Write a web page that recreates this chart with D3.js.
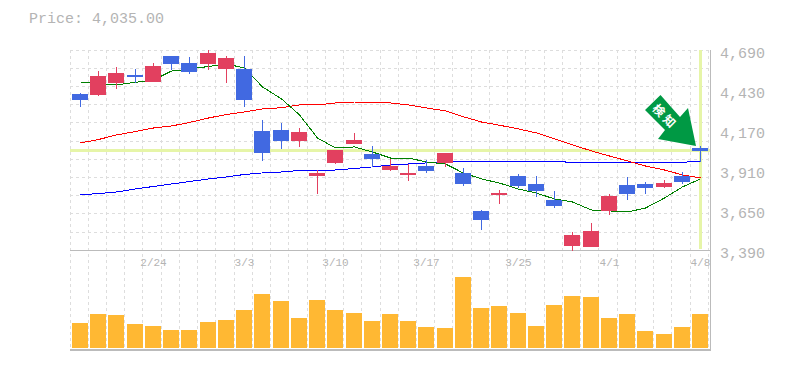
<!DOCTYPE html>
<html>
<head>
<meta charset="utf-8">
<script src="https://cdnjs.cloudflare.com/ajax/libs/d3/7.8.5/d3.min.js"></script>
<style>
html, body { margin: 0; padding: 0; background: #fff; }
svg { display: block; }
text { font-family: "Liberation Mono", monospace; fill: #b4b4b4; }
</style>
</head>
<body>
<div id="chart"></div>
<script>
const dates = ["2/18","2/19","2/20","2/21","2/24","2/25","2/26","2/27","2/28","3/3","3/4","3/5","3/6","3/7","3/10","3/11","3/12","3/13","3/14","3/17","3/18","3/19","3/20","3/24","3/25","3/26","3/27","3/28","3/31","4/1","4/2","4/3","4/4","4/7","4/8"];
const dateLabels = ["2/24","3/3","3/10","3/17","3/25","4/1","4/8"];
const priceTicks = [3390,3650,3910,4170,4430,4690];

const open =  [4404,4398,4475,4528,4482,4651,4606,4599,4566,4566,4163,4170,4098,3871,3955,4079,4014,3910,3884,3936,3955,3890,3643,3747,3871,3819,3715,3416,3410,3643,3812,3819,3799,3871,4053];
const close = [4365,4521,4540,4514,4586,4599,4547,4670,4638,4365,4020,4098,4157,3890,4040,4105,3981,3936,3890,3903,4020,3819,3585,3760,3806,3773,3676,3487,3513,3741,3754,3793,3825,3832,4035];
const high =  [4410,4553,4580,4566,4606,4651,4644,4690,4651,4651,4235,4215,4183,3910,4040,4150,4066,3981,3949,3975,4020,3923,3650,3780,3884,3871,3773,3507,3565,3754,3864,3832,3845,3897,4066];
const low =   [4320,4391,4436,4475,4482,4560,4534,4560,4475,4320,3968,4046,4059,3754,3949,4079,3929,3903,3838,3890,3929,3806,3520,3689,3793,3734,3663,3383,3410,3617,3715,3754,3793,3819,3962];

const ma5 =  [4482,4472,4463,4480,4495,4553,4566,4583,4599,4573,4450,4372,4268,4118,4053,4060,4027,3988,3988,3962,3949,3890,3852,3825,3786,3760,3722,3702,3650,3644,3637,3663,3728,3800,3852];
const ma25 = [4086,4108,4138,4160,4183,4196,4219,4248,4271,4287,4307,4315,4333,4333,4346,4352,4352,4346,4333,4313,4295,4256,4222,4201,4177,4151,4112,4073,4034,4001,3969,3936,3910,3878,3858];
const ma75 = [3748,3757,3767,3787,3803,3819,3835,3852,3865,3881,3891,3897,3907,3907,3910,3920,3930,3943,3949,3956,3965,3967,3967,3967,3967,3967,3965,3960,3960,3960,3960,3960,3960,3960,3967];

// volume in thousands of shares
const volume = [25,34,33,24,22,18,18,26,28,38,54,47,30,48,38,35,27,34,27,21,20,71,40,42,35,22,43,52,51,30,34,17,14,21,34];

const lastPrice = 4035;
const signalText = "検知";

const width = 785, height = 370;
const left = 70, right = 708.26, plotRight = 710;
const top_ = 50, mid = 250, bottom = 350;

const svg = d3.select("#chart").append("svg")
    .attr("width", width)
    .attr("height", height);

const x = d3.scaleBand().domain(dates).range([left, right]);
const y = d3.scaleLinear().domain([3390, 4690]).range([mid, top_]);
const v = d3.scaleLinear().domain([0, 100]).range([348, 248]);
const barX = d => Math.round(x(d) + 2);
const cx = d => barX(d) + 8.5;

// grid
const grid = svg.append("g")
    .attr("stroke", "#ddd")
    .attr("stroke-dasharray", "3,3")
    .attr("shape-rendering", "crispEdges");
grid.selectAll("line.v")
    .data(dates)
    .join("line")
    .attr("class", "v")
    .attr("x1", d => Math.floor(x(d)) + 0.5)
    .attr("x2", d => Math.floor(x(d)) + 0.5)
    .attr("y1", top_)
    .attr("y2", bottom);
grid.append("line")
    .attr("x1", Math.floor(right) + 0.5).attr("x2", Math.floor(right) + 0.5)
    .attr("y1", top_).attr("y2", bottom);
grid.selectAll("line.h")
    .data(d3.range(0, 11))
    .join("line")
    .attr("class", "h")
    .attr("x1", left)
    .attr("x2", plotRight)
    .attr("y1", i => Math.floor(top_ + i * (mid - top_) / 11 + 0.25) + 0.5)
    .attr("y2", i => Math.floor(top_ + i * (mid - top_) / 11 + 0.25) + 0.5);

// volume bars
svg.append("g")
    .attr("fill", "#ffb833")
    .attr("shape-rendering", "crispEdges")
    .selectAll("rect")
    .data(volume)
    .join("rect")
    .attr("x", (d, i) => barX(dates[i]))
    .attr("width", 16)
    .attr("y", d => v(d))
    .attr("height", d => v(0) - v(d));

// current price cross
const hiColor = "#e6f5a8";
svg.append("line")
    .attr("x1", left).attr("x2", plotRight + 1)
    .attr("y1", y(lastPrice)).attr("y2", y(lastPrice))
    .attr("stroke", hiColor).attr("stroke-width", 3)
    .attr("shape-rendering", "crispEdges");
svg.append("line")
    .attr("x1", cx(dates[34])).attr("x2", cx(dates[34]))
    .attr("y1", top_).attr("y2", mid - 1)
    .attr("stroke", hiColor).attr("stroke-width", 3)
    .attr("shape-rendering", "crispEdges");

// frame
const frame = svg.append("g").attr("stroke", "#bbb").attr("shape-rendering", "crispEdges");
frame.append("line").attr("x1", left).attr("x2", plotRight).attr("y1", mid + 0.5).attr("y2", mid + 0.5);
frame.append("line").attr("x1", left).attr("x2", plotRight + 1).attr("y1", bottom).attr("y2", bottom).attr("stroke-width", 2);
frame.append("line").attr("x1", plotRight + 0.5).attr("x2", plotRight + 0.5).attr("y1", top_).attr("y2", bottom + 1);

// moving averages
const line = d3.line().x((d, i) => cx(dates[i])).y(d => y(d));
[[ma75, "#0000ff"], [ma25, "#ff0000"], [ma5, "#008000"]].forEach(([vals, color]) => {
    svg.append("path")
        .attr("d", line(vals))
        .attr("fill", "none")
        .attr("stroke", color)
        .attr("stroke-width", 1)
        .attr("shape-rendering", "crispEdges");
});

// candles
const upColor = "#e2405f", downColor = "#4169e1";
const candles = svg.append("g")
    .attr("shape-rendering", "crispEdges")
    .selectAll("g")
    .data(dates)
    .join("g")
    .attr("fill", (d, i) => close[i] >= open[i] ? upColor : downColor)
    .attr("stroke", (d, i) => close[i] >= open[i] ? upColor : downColor);
candles.append("line")
    .attr("x1", d => cx(d))
    .attr("x2", d => cx(d))
    .attr("y1", (d, i) => y(high[i]))
    .attr("y2", (d, i) => y(low[i]));
candles.append("rect")
    .attr("stroke", "none")
    .attr("x", d => barX(d))
    .attr("width", 16)
    .attr("y", (d, i) => y(Math.max(open[i], close[i])))
    .attr("height", (d, i) => Math.max(2, Math.abs(y(open[i]) - y(close[i]))));

// signal arrow, anchored on the last candle
const tipX = cx(dates[34]) - 4.5, tipY = y(high[34]);
const arrow = svg.append("g").attr("transform", `translate(${tipX},${tipY})`);
arrow.append("path")
    .attr("d", d3.line()([[-35.5,-51],[-51,-36],[-31,-16],[-38,-7],[0,0],[-8,-38],[-16,-29]]) + "Z")
    .attr("fill", "#009944");
arrow.append("text")
    .attr("transform", "translate(-30,-30) rotate(45)")
    .attr("text-anchor", "middle")
    .attr("dominant-baseline", "central")
    .style("font-family", "'Noto Sans CJK JP'")
    .style("font-size", "12px")
    .style("font-weight", "bold")
    .style("letter-spacing", "3px")
    .style("fill", "#fff")
    .text(signalText);

// axis labels
svg.append("g").selectAll("text")
    .data(priceTicks)
    .join("text")
    .attr("x", 720)
    .attr("y", d => y(d) + 8)
    .style("font-size", "15px")
    .text(d3.format(","));
svg.append("g").selectAll("text")
    .data(dateLabels)
    .join("text")
    .attr("x", d => cx(d))
    .attr("y", 266)
    .attr("text-anchor", "middle")
    .style("font-size", "11px")
    .text(d => d);

svg.append("text")
    .attr("x", 29)
    .attr("y", 23)
    .style("font-size", "15px")
    .text("Price: " + d3.format(",.2f")(lastPrice));
</script>
</body>
</html>
